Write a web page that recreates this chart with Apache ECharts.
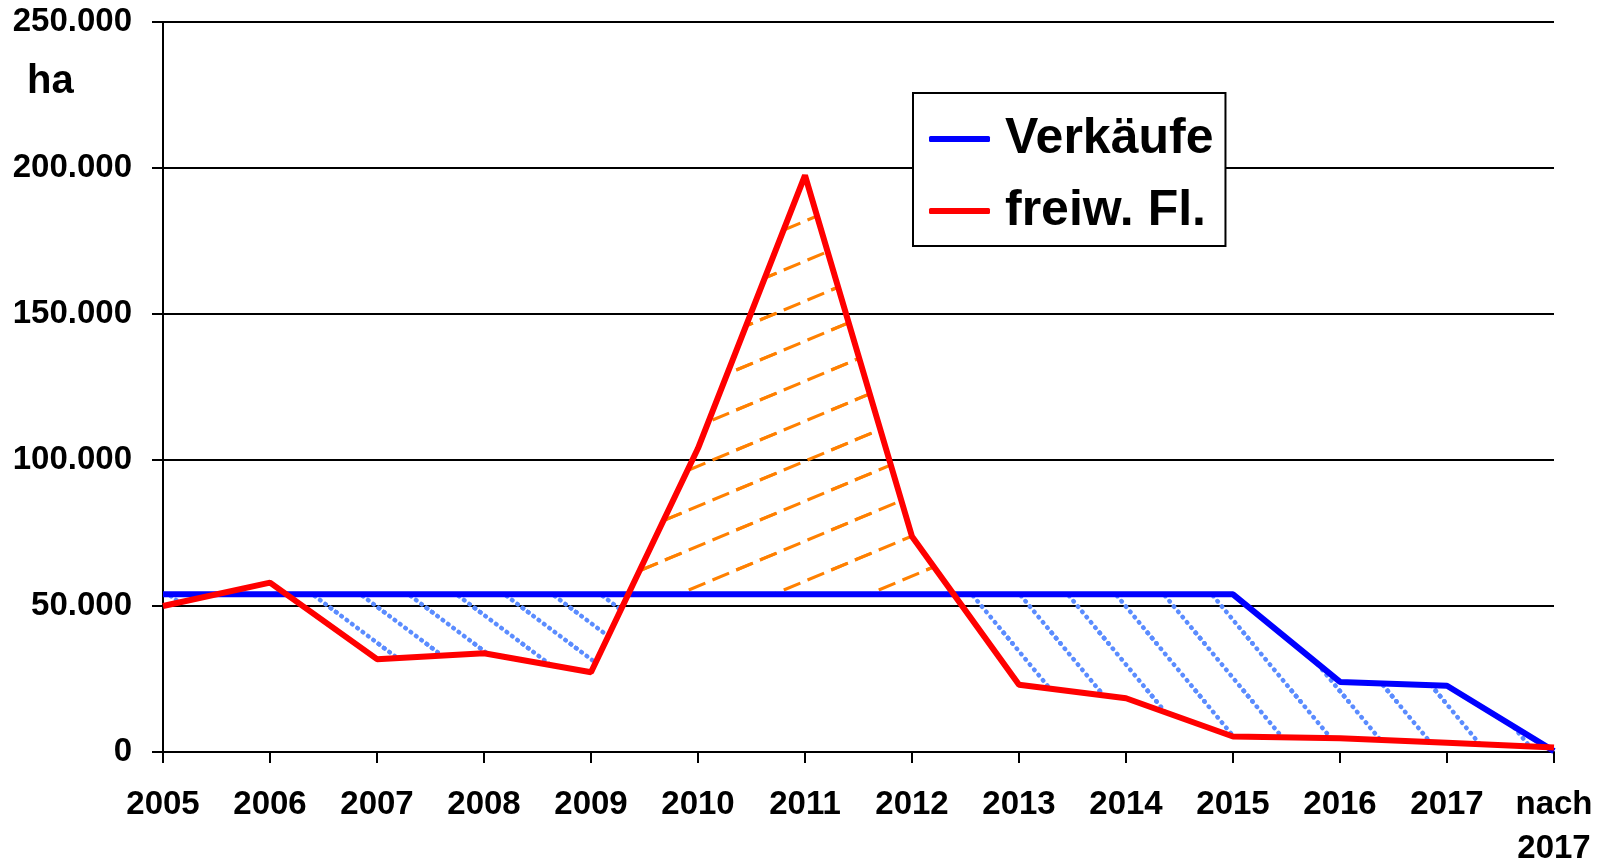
<!DOCTYPE html>
<html>
<head>
<meta charset="utf-8">
<script src="https://cdn.jsdelivr.net/npm/echarts@6/dist/echarts.min.js"></script>
<style>
  html, body { margin: 0; padding: 0; background: #fff; }
  #chart { width: 1610px; height: 863px; }
</style>
</head>
<body>
<div id="chart"></div>
<script>
// Daten
const jahre = ['2005', '2006', '2007', '2008', '2009', '2010', '2011', '2012', '2013', '2014', '2015', '2016', '2017', 'nach\n2017'];
const verkaeufe = [54000, 54000, 54000, 54000, 54000, 54000, 54000, 54000, 54000, 54000, 54000, 24000, 22700, 300];
const freiwFl = [50000, 58000, 31800, 33800, 27300, 104000, 197500, 73800, 23000, 18400, 5300, 4700, 3200, 1500];
const yTicks = [0, 50000, 100000, 150000, 200000, 250000];

const FONT = '"Liberation Sans", Arial, sans-serif';

// Schraffur-Muster (Canvas-Kacheln)
function makeHatch(w, h, color, width, dir, dash, cap) {
  const c = document.createElement('canvas');
  c.width = w; c.height = h;
  const ctx = c.getContext('2d');
  ctx.strokeStyle = color;
  ctx.lineWidth = width;
  ctx.lineCap = cap;
  const len = Math.sqrt(w * w + h * h);
  const n = Math.max(1, Math.round(len / (dash[0] + dash[1])));
  const per = len / n;
  ctx.setLineDash([dash[0], per - dash[0]]);
  const ux = w / len, uy = (dir > 0 ? h : -h) / len;
  for (let i = -1; i <= 1; i++) {
    for (let j = -1; j <= 1; j++) {
      const sx = i * w, sy = j * h + (dir > 0 ? 0 : h);
      ctx.beginPath();
      ctx.moveTo(sx - ux * per, sy - uy * per);
      ctx.lineTo(sx + ux * (len + per), sy + uy * (len + per));
      ctx.stroke();
    }
  }
  return { image: c, repeat: 'repeat' };
}

const orangeHatch = makeHatch(95, 40, '#ff8000', 3, -1, [18, 8], 'butt');
const blueHatchFlat = makeHatch(48, 36, '#5b8cff', 4.5, 1, [0.5, 6.3], 'round');
const blueHatchSteep = makeHatch(48, 58, '#5b8cff', 4.5, 1, [0.5, 6.3], 'round');

function fmt(v) {
  return String(v).replace(/\B(?=(\d{3})+(?!\d))/g, '.');
}

const segmente = jahre.slice(0, -1).map((_, i) => i);

function renderHatch(params, api) {
  const i = api.value(0);
  const b0 = api.coord([i, verkaeufe[i]]), b1 = api.coord([i + 1, verkaeufe[i + 1]]);
  const r0 = api.coord([i, freiwFl[i]]), r1 = api.coord([i + 1, freiwFl[i + 1]]);
  const d0 = freiwFl[i] - verkaeufe[i], d1 = freiwFl[i + 1] - verkaeufe[i + 1];
  const blue = i < 6 ? blueHatchFlat : blueHatchSteep;
  const fillFor = d => (d > 0 ? orangeHatch : blue);
  const children = [];
  if (d0 * d1 >= 0) {
    children.push({
      type: 'polygon',
      shape: { points: [b0, b1, r1, r0] },
      style: { fill: fillFor(d0 !== 0 ? d0 : d1) }
    });
  } else {
    const t = d0 / (d0 - d1);
    const xc = b0[0] + t * (b1[0] - b0[0]);
    const yc = b0[1] + t * (b1[1] - b0[1]);
    children.push({ type: 'polygon', shape: { points: [b0, [xc, yc], r0] }, style: { fill: fillFor(d0) } });
    children.push({ type: 'polygon', shape: { points: [[xc, yc], b1, r1] }, style: { fill: fillFor(d1) } });
  }
  return { type: 'group', children: children };
}

const chart = echarts.init(document.getElementById('chart'));

const option = {
  backgroundColor: '#fff',
  animation: false,
  title: {
    text: 'ha',
    left: 22,
    top: 57,
    textStyle: { fontFamily: FONT, fontSize: 40, fontWeight: 'bold', color: '#000' }
  },
  legend: {
    orient: 'vertical',
    left: 913,
    top: 93,
    icon: 'roundRect',
    itemWidth: 61,
    itemHeight: 6,
    itemGap: 22,
    padding: [21, 12, 10, 16],
    borderColor: '#000',
    borderWidth: 2,
    backgroundColor: '#fff',
    data: ['Verkäufe', 'freiw. Fl.'],
    textStyle: {
      fontFamily: FONT, fontSize: 50, fontWeight: 'bold', color: '#000',
      lineHeight: 48, padding: [0, 0, 0, 10]
    }
  },
  grid: { left: 163, right: 56, top: 22, bottom: 111, containLabel: false, outerBoundsMode: 'none' },
  xAxis: {
    type: 'category',
    data: jahre,
    boundaryGap: false,
    axisLine: { lineStyle: { color: '#000', width: 2 } },
    axisTick: { show: true, length: 11, alignWithLabel: true, lineStyle: { color: '#000', width: 2 } },
    axisLabel: {
      interval: 0,
      margin: 31,
      fontFamily: FONT, fontSize: 33, fontWeight: 'bold', color: '#000',
      lineHeight: 44
    },
    splitLine: { show: false }
  },
  yAxis: {
    type: 'value',
    min: 0,
    max: 250000,
    interval: 50000,
    axisLine: { show: true, lineStyle: { color: '#000', width: 2 } },
    axisTick: { show: true, length: 11, lineStyle: { color: '#000', width: 2 } },
    axisLabel: {
      margin: 31,
      fontFamily: FONT, fontSize: 33, fontWeight: 'bold', color: '#000',
      formatter: v => fmt(v)
    },
    splitLine: { show: true, lineStyle: { color: '#000', width: 2 } }
  },
  series: [
    {
      type: 'custom',
      name: 'schraffur',
      data: segmente,
      renderItem: renderHatch,
      silent: true,
      z: 2
    },
    {
      name: 'Verkäufe',
      type: 'line',
      data: verkaeufe,
      color: '#0000ff',
      showSymbol: false,
      lineStyle: { color: '#0000ff', width: 6 },
      z: 3
    },
    {
      name: 'freiw. Fl.',
      type: 'line',
      data: freiwFl,
      color: '#ff0000',
      showSymbol: false,
      lineStyle: { color: '#ff0000', width: 6 },
      z: 4
    }
  ]
};

chart.setOption(option);
</script>
</body>
</html>
